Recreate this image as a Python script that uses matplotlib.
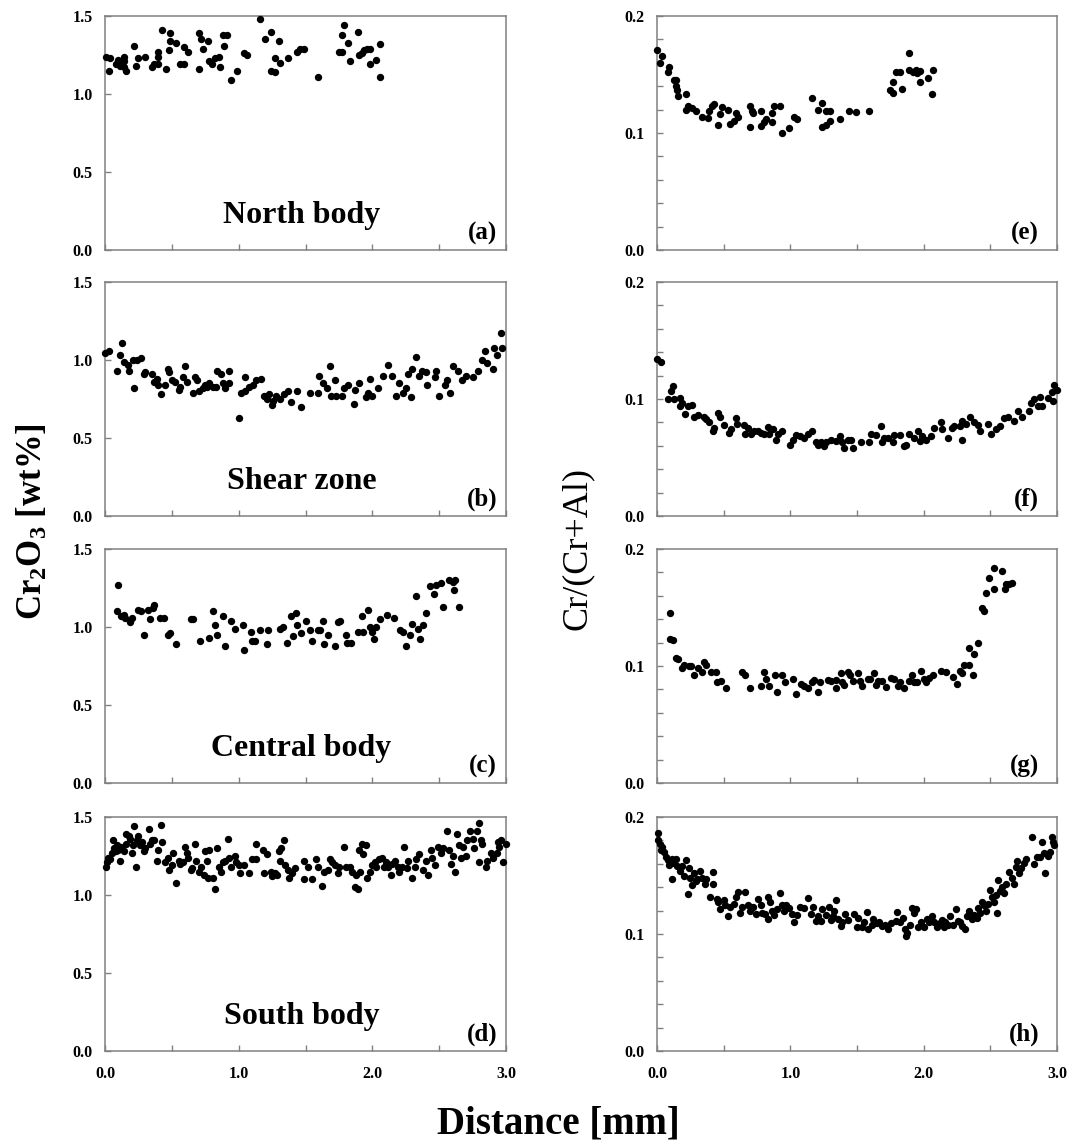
import numpy as np
import matplotlib.pyplot as plt

plt.rcParams['font.family'] = 'Liberation Serif'
plt.rcParams['mathtext.fontset'] = 'custom'
plt.rcParams['mathtext.rm'] = 'Liberation Serif:bold'
plt.rcParams['mathtext.it'] = 'Liberation Serif:bold'
plt.rcParams['mathtext.bf'] = 'Liberation Serif:bold'

# (distance [mm], Cr2O3 [wt%]) per profile
north_cr2o3 = np.array([
    (0.005, 1.24), (0.03, 1.15), (0.035, 1.23), (0.085, 1.19), (0.1, 1.22), (0.11, 1.18), (0.14, 1.24), (0.145, 1.17), (0.16, 1.15), (0.14, 1.21),
    (0.22, 1.31), (0.23, 1.18), (0.25, 1.23), (0.3, 1.24), (0.35, 1.17), (0.37, 1.19), (0.4, 1.19), (0.4, 1.27), (0.4, 1.24), (0.43, 1.41),
    (0.46, 1.16), (0.48, 1.28), (0.49, 1.39), (0.49, 1.34), (0.53, 1.33), (0.56, 1.19), (0.59, 1.19), (0.59, 1.30), (0.62, 1.27), (0.7, 1.39),
    (0.7, 1.16), (0.72, 1.35), (0.73, 1.29), (0.77, 1.34), (0.78, 1.21), (0.8, 1.19), (0.82, 1.23), (0.85, 1.24), (0.86, 1.17), (0.88, 1.38),
    (0.89, 1.31), (0.91, 1.38), (0.94, 1.09), (0.99, 1.15), (1.04, 1.26), (1.06, 1.25), (1.16, 1.48), (1.2, 1.35), (1.24, 1.40), (1.24, 1.15),
    (1.27, 1.14), (1.27, 1.23), (1.3, 1.34), (1.31, 1.20), (1.37, 1.23), (1.44, 1.27), (1.46, 1.29), (1.49, 1.29), (1.59, 1.11), (1.75, 1.27),
    (1.77, 1.27), (1.77, 1.38), (1.79, 1.44), (1.82, 1.33), (1.83, 1.21), (1.89, 1.40), (1.9, 1.25), (1.92, 1.26), (1.94, 1.28), (1.96, 1.29),
    (1.98, 1.19), (1.98, 1.29), (2.03, 1.22), (2.06, 1.11), (2.06, 1.32),
])

shear_cr2o3 = np.array([
    (0.0, 1.045), (0.03, 1.06), (0.09, 0.93), (0.11, 1.03), (0.13, 1.11), (0.14, 0.99), (0.17, 0.97), (0.18, 0.93), (0.21, 1.00), (0.22, 0.82),
    (0.24, 1.00), (0.27, 1.01), (0.29, 0.91), (0.30, 0.92), (0.35, 0.91), (0.37, 0.86), (0.39, 0.88), (0.40, 0.84), (0.42, 0.78), (0.45, 0.84),
    (0.47, 0.94), (0.48, 0.92), (0.50, 0.87), (0.52, 0.86), (0.55, 0.81), (0.56, 0.83), (0.58, 0.89), (0.60, 0.96), (0.61, 0.86), (0.66, 0.79),
    (0.67, 0.89), (0.69, 0.87), (0.70, 0.80), (0.73, 0.82), (0.75, 0.84), (0.76, 0.83), (0.78, 0.85), (0.81, 0.83), (0.83, 0.83), (0.84, 0.93),
    (0.87, 0.91), (0.88, 0.85), (0.90, 0.82), (0.93, 0.93), (0.93, 0.85), (1.00, 0.63), (1.02, 0.79), (1.05, 0.89), (1.05, 0.80), (1.08, 0.83),
    (1.11, 0.84), (1.13, 0.87), (1.17, 0.88), (1.19, 0.77), (1.21, 0.75), (1.23, 0.78), (1.25, 0.71), (1.26, 0.74), (1.28, 0.77), (1.31, 0.75),
    (1.34, 0.78), (1.37, 0.80), (1.39, 0.73), (1.44, 0.80), (1.47, 0.70), (1.53, 0.79), (1.59, 0.79), (1.60, 0.90), (1.63, 0.85), (1.66, 0.82),
    (1.68, 0.96), (1.69, 0.77), (1.72, 0.87), (1.73, 0.77), (1.77, 0.77), (1.79, 0.82), (1.82, 0.84), (1.86, 0.72), (1.87, 0.81), (1.90, 0.85),
    (1.95, 0.76), (1.97, 0.79), (1.98, 0.88), (2.00, 0.77), (2.04, 0.82), (2.08, 0.90), (2.12, 0.97), (2.15, 0.90), (2.18, 0.77), (2.20, 0.85),
    (2.23, 0.79), (2.25, 0.82), (2.27, 0.91), (2.29, 0.76), (2.30, 0.94), (2.33, 1.02), (2.35, 0.90), (2.37, 0.93), (2.40, 0.92), (2.41, 0.84),
    (2.47, 0.89), (2.48, 0.93), (2.50, 0.77), (2.54, 0.84), (2.56, 0.87), (2.58, 0.79), (2.60, 0.96), (2.64, 0.93), (2.67, 0.87), (2.70, 0.90),
    (2.75, 0.89), (2.79, 0.93), (2.82, 1.00), (2.84, 1.06), (2.86, 0.98), (2.90, 0.94), (2.91, 1.08), (2.93, 1.03), (2.96, 1.17), (2.97, 1.08),
])

central_cr2o3 = np.array([
    (0.10, 1.27), (0.09, 1.10), (0.12, 1.07), (0.14, 1.075), (0.15, 1.06), (0.19, 1.03), (0.20, 1.06), (0.25, 1.11), (0.27, 1.10), (0.29, 0.95),
    (0.32, 1.11), (0.34, 1.05), (0.36, 1.12), (0.37, 1.14), (0.41, 1.06), (0.44, 1.06), (0.47, 0.95), (0.49, 0.96), (0.53, 0.89), (0.64, 1.05),
    (0.66, 1.05), (0.71, 0.91), (0.78, 0.93), (0.81, 1.10), (0.82, 1.01), (0.84, 0.95), (0.88, 1.07), (0.90, 0.88), (0.94, 1.04), (0.97, 0.99),
    (1.03, 1.01), (1.04, 0.85), (1.09, 0.97), (1.10, 0.91), (1.12, 0.91), (1.16, 0.98), (1.21, 0.89), (1.22, 0.98), (1.31, 0.99), (1.33, 1.00),
    (1.36, 0.90), (1.39, 1.07), (1.41, 0.94), (1.43, 1.09), (1.44, 1.01), (1.47, 0.96), (1.50, 1.04), (1.53, 0.98), (1.55, 0.91), (1.59, 0.98),
    (1.61, 0.98), (1.63, 1.04), (1.64, 0.89), (1.67, 0.95), (1.72, 0.88), (1.74, 1.03), (1.76, 1.04), (1.80, 0.95), (1.81, 0.90), (1.84, 0.90),
    (1.89, 0.97), (1.92, 1.07), (1.93, 0.97), (1.97, 1.11), (1.98, 1.00), (2.00, 0.97), (2.01, 0.92), (2.03, 1.00), (2.06, 1.05), (2.11, 1.08),
    (2.16, 1.06), (2.21, 0.98), (2.23, 0.97), (2.25, 0.88), (2.28, 0.95), (2.30, 1.02), (2.33, 1.20), (2.34, 0.99), (2.36, 0.92), (2.38, 1.01),
    (2.40, 1.09), (2.43, 1.26), (2.46, 1.21), (2.48, 1.27), (2.51, 1.28), (2.53, 1.13), (2.57, 1.30), (2.60, 1.29), (2.61, 1.24), (2.62, 1.30),
    (2.65, 1.13),
])

south_cr2o3 = np.array([
    (0.005, 1.18), (0.015, 1.21), (0.02, 1.24), (0.035, 1.23), (0.05, 1.27), (0.06, 1.35), (0.07, 1.30), (0.08, 1.28), (0.09, 1.32), (0.10, 1.29),
    (0.115, 1.22), (0.12, 1.31), (0.14, 1.28), (0.155, 1.33), (0.16, 1.39), (0.18, 1.38), (0.19, 1.36), (0.205, 1.27), (0.21, 1.32), (0.22, 1.44),
    (0.235, 1.18), (0.24, 1.35), (0.25, 1.38), (0.26, 1.32), (0.28, 1.34), (0.29, 1.28), (0.30, 1.30), (0.33, 1.42), (0.34, 1.33), (0.35, 1.35),
    (0.37, 1.35), (0.39, 1.22), (0.40, 1.29), (0.42, 1.45), (0.43, 1.34), (0.45, 1.21), (0.47, 1.24), (0.48, 1.16), (0.50, 1.19), (0.51, 1.27),
    (0.53, 1.08), (0.55, 1.22), (0.56, 1.20), (0.58, 1.21), (0.60, 1.31), (0.61, 1.27), (0.62, 1.24), (0.64, 1.16), (0.65, 1.17), (0.67, 1.33),
    (0.68, 1.22), (0.70, 1.15), (0.72, 1.18), (0.74, 1.13), (0.75, 1.28), (0.76, 1.22), (0.77, 1.11), (0.78, 1.29), (0.81, 1.11), (0.82, 1.04),
    (0.84, 1.30), (0.85, 1.18), (0.87, 1.15), (0.88, 1.21), (0.90, 1.22), (0.92, 1.36), (0.93, 1.24), (0.94, 1.18), (0.97, 1.25), (0.98, 1.21),
    (1.00, 1.19), (1.01, 1.14), (1.04, 1.19), (1.08, 1.14), (1.10, 1.23), (1.13, 1.33), (1.13, 1.23), (1.18, 1.29), (1.19, 1.14), (1.21, 1.26),
    (1.24, 1.15), (1.25, 1.12), (1.27, 1.14), (1.29, 1.13), (1.30, 1.28), (1.31, 1.22), (1.32, 1.30), (1.34, 1.35), (1.35, 1.19), (1.37, 1.16),
    (1.38, 1.11), (1.40, 1.14), (1.42, 1.17), (1.49, 1.22), (1.49, 1.10), (1.52, 1.18), (1.55, 1.10), (1.58, 1.23), (1.59, 1.18), (1.62, 1.06),
    (1.64, 1.15), (1.67, 1.16), (1.68, 1.23), (1.70, 1.21), (1.72, 1.19), (1.74, 1.14), (1.75, 1.18), (1.79, 1.31), (1.80, 1.18), (1.83, 1.18),
    (1.85, 1.15), (1.87, 1.05), (1.89, 1.04), (1.88, 1.13), (1.90, 1.29), (1.91, 1.15), (1.92, 1.33), (1.93, 1.26), (1.95, 1.32), (1.96, 1.11),
    (1.98, 1.15), (2.00, 1.19), (2.02, 1.21), (2.03, 1.18), (2.05, 1.23), (2.07, 1.24), (2.09, 1.18), (2.10, 1.21), (2.12, 1.18), (2.14, 1.13),
    (2.15, 1.20), (2.17, 1.22), (2.19, 1.18), (2.20, 1.15), (2.22, 1.18), (2.24, 1.31), (2.26, 1.17), (2.27, 1.22), (2.30, 1.11), (2.32, 1.18),
    (2.33, 1.23), (2.35, 1.26), (2.38, 1.16), (2.40, 1.22), (2.42, 1.13), (2.44, 1.29), (2.45, 1.24), (2.47, 1.19), (2.49, 1.31), (2.51, 1.27),
    (2.53, 1.30), (2.56, 1.41), (2.57, 1.29), (2.59, 1.20), (2.60, 1.25), (2.62, 1.15), (2.63, 1.39), (2.65, 1.32), (2.66, 1.24), (2.68, 1.31),
    (2.70, 1.25), (2.71, 1.35), (2.73, 1.41), (2.75, 1.36), (2.76, 1.30), (2.78, 1.41), (2.80, 1.46), (2.81, 1.35), (2.82, 1.33), (2.80, 1.21),
    (2.85, 1.18), (2.86, 1.22), (2.89, 1.27), (2.90, 1.24), (2.93, 1.27), (2.94, 1.34), (2.95, 1.31), (2.96, 1.35), (2.98, 1.21), (3.00, 1.33),
])

# (distance [mm], Cr/(Cr+Al)) per profile
north_crnum = np.array([
    (0.0, 0.171), (0.034, 0.166), (0.026, 0.160), (0.092, 0.156), (0.084, 0.152), (0.13, 0.145), (0.145, 0.145), (0.14, 0.140), (0.15, 0.137), (0.16, 0.132),
    (0.22, 0.133), (0.23, 0.123), (0.22, 0.120), (0.26, 0.121), (0.29, 0.119), (0.34, 0.114), (0.38, 0.113), (0.39, 0.119), (0.41, 0.123), (0.43, 0.125),
    (0.46, 0.107), (0.47, 0.116), (0.49, 0.122), (0.53, 0.120), (0.55, 0.108), (0.58, 0.110), (0.59, 0.117), (0.61, 0.114), (0.70, 0.123), (0.70, 0.105),
    (0.71, 0.119), (0.72, 0.117), (0.78, 0.119), (0.78, 0.106), (0.80, 0.109), (0.82, 0.112), (0.86, 0.109), (0.86, 0.117), (0.88, 0.123), (0.92, 0.123),
    (0.94, 0.100), (0.99, 0.104), (1.03, 0.114), (1.05, 0.112), (1.16, 0.130), (1.21, 0.120), (1.24, 0.126), (1.24, 0.105), (1.27, 0.107), (1.27, 0.119),
    (1.30, 0.119), (1.30, 0.110), (1.37, 0.112), (1.44, 0.119), (1.49, 0.118), (1.59, 0.119), (1.75, 0.137), (1.77, 0.134), (1.77, 0.144), (1.79, 0.152),
    (1.82, 0.152), (1.84, 0.138), (1.89, 0.168), (1.89, 0.154), (1.92, 0.152), (1.94, 0.154), (1.95, 0.151), (1.97, 0.153), (1.97, 0.144), (2.03, 0.147),
    (2.06, 0.133), (2.07, 0.154),
])

shear_crnum = np.array([
    (0.0, 0.134), (0.03, 0.132), (0.08, 0.100), (0.105, 0.107), (0.12, 0.111), (0.13, 0.100), (0.17, 0.101), (0.17, 0.094), (0.19, 0.097), (0.21, 0.087),
    (0.23, 0.094), (0.26, 0.095), (0.28, 0.085), (0.305, 0.086), (0.355, 0.085), (0.37, 0.083), (0.39, 0.080), (0.42, 0.073), (0.43, 0.075), (0.455, 0.088),
    (0.47, 0.085), (0.505, 0.078), (0.54, 0.071), (0.555, 0.074), (0.59, 0.084), (0.60, 0.079), (0.655, 0.078), (0.66, 0.070), (0.68, 0.075), (0.705, 0.070),
    (0.73, 0.073), (0.755, 0.073), (0.78, 0.071), (0.805, 0.070), (0.83, 0.076), (0.84, 0.070), (0.87, 0.074), (0.89, 0.065), (0.905, 0.070), (0.94, 0.073),
    (1.00, 0.061), (1.02, 0.065), (1.04, 0.069), (1.07, 0.068), (1.10, 0.067), (1.13, 0.070), (1.16, 0.073), (1.19, 0.063), (1.21, 0.061), (1.23, 0.063),
    (1.25, 0.060), (1.27, 0.063), (1.305, 0.065), (1.34, 0.064), (1.37, 0.068), (1.39, 0.063), (1.405, 0.058), (1.43, 0.065), (1.455, 0.065), (1.47, 0.058),
    (1.53, 0.063), (1.59, 0.063), (1.605, 0.070), (1.64, 0.069), (1.68, 0.077), (1.69, 0.063), (1.705, 0.067), (1.73, 0.067), (1.77, 0.063), (1.78, 0.069),
    (1.82, 0.069), (1.855, 0.060), (1.87, 0.061), (1.89, 0.070), (1.93, 0.067), (1.96, 0.073), (1.97, 0.064), (1.99, 0.068), (2.02, 0.065), (2.055, 0.068),
    (2.08, 0.075), (2.13, 0.080), (2.14, 0.074), (2.18, 0.067), (2.21, 0.075), (2.23, 0.077), (2.27, 0.077), (2.29, 0.065), (2.29, 0.081), (2.32, 0.079),
    (2.35, 0.085), (2.38, 0.080), (2.405, 0.078), (2.42, 0.073), (2.48, 0.079), (2.505, 0.070), (2.54, 0.074), (2.57, 0.077), (2.605, 0.084), (2.63, 0.085),
    (2.68, 0.081), (2.705, 0.090), (2.74, 0.085), (2.79, 0.090), (2.805, 0.097), (2.83, 0.100), (2.855, 0.094), (2.87, 0.102), (2.89, 0.094), (2.93, 0.101),
    (2.96, 0.106), (2.98, 0.112), (3.00, 0.108), (2.97, 0.098),
])

central_crnum = np.array([
    (0.10, 0.145), (0.10, 0.123), (0.12, 0.122), (0.14, 0.107), (0.155, 0.106), (0.19, 0.098), (0.205, 0.101), (0.24, 0.100), (0.255, 0.100), (0.28, 0.092),
    (0.31, 0.098), (0.34, 0.095), (0.355, 0.103), (0.37, 0.101), (0.405, 0.095), (0.44, 0.095), (0.45, 0.086), (0.48, 0.087), (0.52, 0.081), (0.64, 0.095),
    (0.66, 0.092), (0.70, 0.081), (0.78, 0.083), (0.805, 0.095), (0.82, 0.089), (0.84, 0.083), (0.885, 0.092), (0.90, 0.078), (0.94, 0.092), (0.96, 0.086),
    (1.02, 0.089), (1.04, 0.076), (1.08, 0.085), (1.105, 0.083), (1.13, 0.081), (1.16, 0.086), (1.18, 0.088), (1.205, 0.078), (1.22, 0.086), (1.28, 0.088),
    (1.305, 0.087), (1.34, 0.088), (1.34, 0.081), (1.38, 0.094), (1.39, 0.086), (1.405, 0.084), (1.43, 0.095), (1.45, 0.092), (1.47, 0.087), (1.505, 0.094),
    (1.52, 0.087), (1.54, 0.083), (1.58, 0.089), (1.60, 0.089), (1.63, 0.094), (1.64, 0.084), (1.66, 0.087), (1.69, 0.087), (1.72, 0.082), (1.755, 0.090),
    (1.78, 0.089), (1.805, 0.083), (1.82, 0.086), (1.85, 0.081), (1.89, 0.087), (1.91, 0.092), (1.93, 0.086), (1.95, 0.086), (1.98, 0.096), (2.00, 0.089),
    (2.02, 0.086), (2.04, 0.090), (2.07, 0.092), (2.13, 0.096), (2.17, 0.095), (2.22, 0.091), (2.25, 0.085), (2.27, 0.096), (2.29, 0.094), (2.30, 0.101),
    (2.34, 0.115), (2.34, 0.101), (2.37, 0.092), (2.38, 0.110), (2.405, 0.120), (2.44, 0.150), (2.45, 0.147), (2.47, 0.162), (2.49, 0.175), (2.53, 0.184),
    (2.53, 0.166), (2.59, 0.181), (2.61, 0.166), (2.62, 0.170), (2.64, 0.170), (2.66, 0.171),
])

south_crnum = np.array([
    (0.005, 0.186), (0.008, 0.180), (0.02, 0.177), (0.04, 0.174), (0.05, 0.170), (0.03, 0.172), (0.07, 0.166), (0.08, 0.163), (0.09, 0.159), (0.11, 0.164),
    (0.11, 0.147), (0.13, 0.161), (0.145, 0.164), (0.15, 0.158), (0.17, 0.154), (0.185, 0.158), (0.20, 0.150), (0.215, 0.163), (0.23, 0.134), (0.24, 0.156),
    (0.25, 0.148), (0.26, 0.142), (0.28, 0.152), (0.29, 0.145), (0.30, 0.147), (0.32, 0.154), (0.34, 0.148), (0.36, 0.143), (0.37, 0.147), (0.395, 0.132),
    (0.42, 0.153), (0.42, 0.143), (0.45, 0.130), (0.46, 0.127), (0.475, 0.121), (0.50, 0.129), (0.51, 0.125), (0.53, 0.115), (0.55, 0.123), (0.58, 0.126),
    (0.59, 0.132), (0.61, 0.136), (0.62, 0.118), (0.64, 0.123), (0.66, 0.136), (0.68, 0.125), (0.70, 0.120), (0.72, 0.123), (0.74, 0.117), (0.76, 0.130),
    (0.78, 0.125), (0.79, 0.118), (0.81, 0.117), (0.83, 0.113), (0.83, 0.132), (0.85, 0.127), (0.86, 0.120), (0.88, 0.116), (0.90, 0.121), (0.92, 0.135),
    (0.94, 0.125), (0.95, 0.120), (0.97, 0.125), (0.99, 0.122), (1.01, 0.117), (1.03, 0.110), (1.05, 0.116), (1.075, 0.123), (1.10, 0.122), (1.13, 0.131),
    (1.155, 0.117), (1.17, 0.123), (1.19, 0.111), (1.21, 0.115), (1.23, 0.111), (1.24, 0.121), (1.27, 0.116), (1.29, 0.123), (1.305, 0.112), (1.32, 0.115),
    (1.33, 0.120), (1.345, 0.129), (1.36, 0.113), (1.38, 0.107), (1.39, 0.110), (1.41, 0.117), (1.43, 0.112), (1.48, 0.117), (1.50, 0.106), (1.51, 0.114),
    (1.535, 0.106), (1.555, 0.110), (1.575, 0.119), (1.58, 0.104), (1.61, 0.108), (1.62, 0.113), (1.65, 0.109), (1.665, 0.110), (1.69, 0.107), (1.71, 0.108),
    (1.735, 0.104), (1.755, 0.109), (1.79, 0.111), (1.80, 0.119), (1.825, 0.110), (1.845, 0.114), (1.86, 0.104), (1.87, 0.098), (1.875, 0.101), (1.90, 0.108),
    (1.91, 0.122), (1.93, 0.118), (1.945, 0.121), (1.96, 0.106), (1.98, 0.110), (2.00, 0.106), (2.025, 0.113), (2.04, 0.110), (2.06, 0.115), (2.08, 0.110),
    (2.10, 0.106), (2.12, 0.109), (2.135, 0.112), (2.15, 0.106), (2.16, 0.110), (2.18, 0.108), (2.20, 0.115), (2.22, 0.108), (2.24, 0.121), (2.255, 0.111),
    (2.27, 0.110), (2.29, 0.107), (2.31, 0.104), (2.325, 0.115), (2.34, 0.120), (2.36, 0.113), (2.38, 0.116), (2.40, 0.114), (2.41, 0.122), (2.425, 0.118),
    (2.44, 0.127), (2.45, 0.125), (2.465, 0.120), (2.48, 0.126), (2.50, 0.138), (2.51, 0.132), (2.53, 0.127), (2.54, 0.133), (2.55, 0.118), (2.56, 0.146),
    (2.57, 0.137), (2.59, 0.140), (2.605, 0.135), (2.615, 0.143), (2.64, 0.153), (2.66, 0.148), (2.675, 0.143), (2.69, 0.157), (2.70, 0.162), (2.715, 0.152),
    (2.73, 0.156), (2.75, 0.161), (2.77, 0.164), (2.81, 0.183), (2.83, 0.160), (2.85, 0.166), (2.87, 0.166), (2.89, 0.179), (2.90, 0.169), (2.91, 0.152),
    (2.93, 0.167), (2.95, 0.170), (2.96, 0.183), (2.97, 0.179), (2.98, 0.176),
])

left_panels = [north_cr2o3, shear_cr2o3, central_cr2o3, south_cr2o3]
right_panels = [north_crnum, shear_crnum, central_crnum, south_crnum]
body_names = ['North body', 'Shear zone', 'Central body', 'South body']
left_letters = ['(a)', '(b)', '(c)', '(d)']
right_letters = ['(e)', '(f)', '(g)', '(h)']

W, H = 1073, 1142
GREY = '#808080'
fig = plt.figure(figsize=(W / 100, H / 100), dpi=100)


def add_panel(left, top, width, height=234):
    return fig.add_axes([left / W, 1 - (top + height) / H, width / W, height / H])


def style(ax, bottom):
    ax.set_xlim(0, 3)
    ax.set_xticks(np.arange(0, 3.01, 0.5))
    if bottom:
        ax.set_xticklabels(['0.0', '', '1.0', '', '2.0', '', '3.0'])
    else:
        ax.set_xticklabels([])
    for s in ax.spines.values():
        s.set_color(GREY)
        s.set_linewidth(1.1)
    ax.tick_params(which='both', direction='in', color=GREY, length=4, width=1,
                   labelsize=11.5)
    ax.tick_params(axis='x', pad=11)
    ax.tick_params(axis='y', pad=9)
    for lab in ax.get_xticklabels() + ax.get_yticklabels():
        lab.set_fontweight('bold')


tops = [16, 282, 549, 817]
for i, top in enumerate(tops):
    bottom = i == 3
    # left column: Cr2O3
    ax = add_panel(105, top, 401)
    d = left_panels[i]
    ax.scatter(d[:, 0], d[:, 1], s=28, color='black', linewidths=0, clip_on=False, zorder=3)
    ax.set_ylim(0, 1.5)
    ax.set_yticks([0, 0.5, 1.0, 1.5])
    ax.set_yticklabels(['0.0', '0.5', '1.0', '1.5'])
    style(ax, bottom)
    ax.text(0.49, 0.115, body_names[i], transform=ax.transAxes, ha='center',
            va='baseline', fontsize=23, fontweight='bold')
    ax.text(0.978, 0.045, left_letters[i], transform=ax.transAxes, ha='right',
            va='baseline', fontsize=18, fontweight='bold')

    # right column: Cr/(Cr+Al)
    ax = add_panel(657, top, 400)
    d = right_panels[i]
    ax.scatter(d[:, 0], d[:, 1], s=28, color='black', linewidths=0, clip_on=False, zorder=3)
    ax.set_ylim(0, 0.2)
    ax.set_yticks([0, 0.1, 0.2])
    ax.set_yticklabels(['0.0', '0.1', '0.2'])
    ax.set_yticks(np.arange(0, 0.2, 0.02), minor=True)
    style(ax, bottom)
    ax.text(0.955, 0.045, right_letters[i], transform=ax.transAxes, ha='right',
            va='baseline', fontsize=18, fontweight='bold')

fig.text(0.031, 0.543, 'Cr$_2$O$_3$ [wt%]', rotation=90, ha='center', va='center',
         fontsize=25, fontweight='bold')
fig.text(0.538, 0.520, 'Cr/(Cr+Al)', rotation=90, ha='center', va='center',
         fontsize=26)
fig.text(0.52, 0.016, 'Distance [mm]', ha='center', va='center',
         fontsize=28, fontweight='bold')

fig.savefig('out.png', dpi=100)
